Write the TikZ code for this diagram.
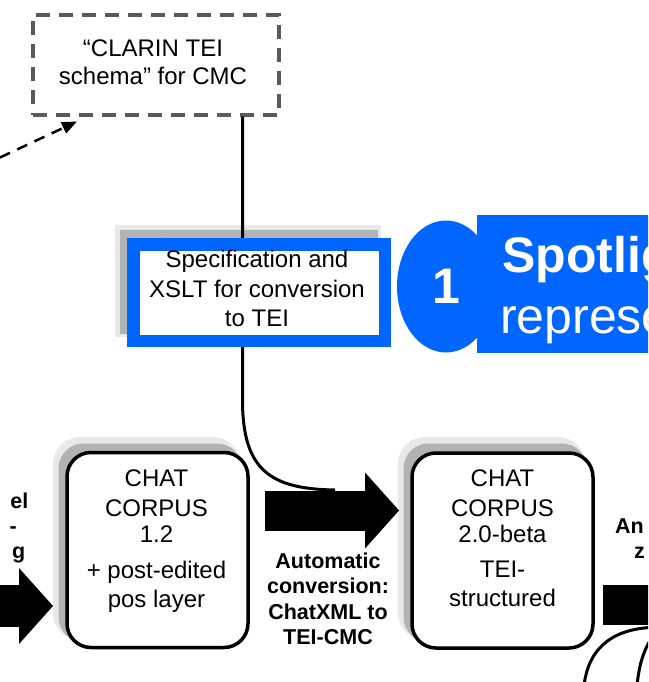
\documentclass[tikz,border=0pt]{standalone}
\usepackage{fontspec}
\setmainfont{Liberation Sans}
\usetikzlibrary{shapes.geometric,arrows.meta}
\definecolor{bblue}{RGB}{0,102,255}
\definecolor{dgray}{RGB}{90,90,90}
\begin{document}
\begin{tikzpicture}[x=1pt,y=-1pt,
  corpus/.style={draw=black, line width=3.5pt, rounded corners=24pt, minimum width=181pt, minimum height=195pt, inner sep=0pt, fill=white},
  bodytext/.style={align=center, inner sep=0pt, font=\fontsize{24}{28}\selectfont},
  labeltext/.style={align=center, inner sep=0pt, font=\bfseries\fontsize{21.5}{25.5}\selectfont},
  fragtext/.style={inner sep=0pt, font=\bfseries\fontsize{21.5}{25.5}\selectfont},
  bigtext/.style={inner sep=0pt, text=white, font=\fontsize{50}{60}\selectfont},
  fatarrow/.style={line width=#1, -{Triangle[length=34pt,width=76pt,line width=0pt]}},
  shadowlight/.style={fill=black!9},
  shadowdark/.style={fill=black!30},
  connector/.style={line width=3pt, black},
]
\useasboundingbox (0,0) rectangle (648,682);
\clip (0,0) rectangle (648,682);

% dashed source box
\node[draw=dgray, line width=3.5pt, dash pattern=on 14pt off 9pt, minimum width=246pt, minimum height=100pt, inner sep=0pt] (clarin) at (156,65) {};
\node[bodytext] (clarintext) at (153,62.3) {“CLARIN TEI\\schema” for CMC};

% dashed arrow into the box
\coordinate (dtail) at (0,157.5);
\coordinate (dtip) at (77,121.5);
\draw[line width=2.5pt, dash pattern=on 11pt off 8pt, -{Triangle[length=15pt,width=12pt]}] (dtail) -- (dtip);

% shadow of specification box
\fill[shadowlight] (115,225) rectangle (381,337);
\fill[shadowdark] (119.5,230) rectangle (378,334);

% vertical connector from the schema box down to the big arrow
\coordinate (bend) at (242.5,400);
\coordinate (meet) at (335,490);
\draw[connector] (clarin.south -| bend) -- (bend) .. controls (242.5,470) and (270,489) .. (meet);

% specification box
\node[draw=bblue, fill=white, line width=12.5pt, minimum width=251.5pt, minimum height=96.5pt, inner sep=0pt] (spec) at (259,292.5) {};
\node[bodytext, font=\fontsize{24}{29.5}\selectfont] (spectext) at (257,288.8) {Specification and\\XSLT for conversion\\to TEI};

% spotlight banner
\node[fill=bblue, anchor=north west, minimum width=200pt, minimum height=138pt, inner sep=0pt] (spot) at (477,215) {};
\node[ellipse, fill=bblue, minimum width=98pt, minimum height=132pt, inner sep=0pt, text=white, font=\bfseries\fontsize{50}{60}\selectfont] (num) at (446,286.5) {1};
\node[bigtext, anchor=base west, font=\bfseries\fontsize{50}{60}\selectfont] (spot1) at (502,272) {Spotlight};
\node[bigtext, anchor=base west] (spot2) at (500,333) {representation};

% shadows of corpus boxes
\fill[shadowlight, rounded corners=27pt] (53,437) rectangle (240,640);
\fill[shadowdark, rounded corners=25pt] (58.5,443.5) rectangle (242,642);
\fill[shadowlight, rounded corners=27pt] (398,437) rectangle (585,640);
\fill[shadowdark, rounded corners=25pt] (403.5,443.5) rectangle (587,642);

% corpus boxes
\node[corpus] (box1) at (157.5,550) {};
\node[bodytext] (box1text) at (156.5,541.4) {CHAT\\[2pt]CORPUS\\[-2pt]1.2\\[8pt]+ post-edited\\[1pt]pos layer};
\node[corpus] (box2) at (502.5,550.5) {};
\node[bodytext] (box2text) at (502.5,538.4) {CHAT\\[2pt]CORPUS\\[-2pt]2.0-beta\\[7pt]TEI-\\[1pt]structured};

% big arrow between the boxes
\coordinate (a1s) at (265,510.5);
\coordinate (a1e) at (399,510.5);
\draw[fatarrow=40pt] (a1s) -- (a1e);
\node[labeltext] (autotext) at (328,598.8) {Automatic\\conversion:\\ChatXML to\\TEI-CMC};

% arrow coming from the left
\coordinate (la1) at (-10,606);
\coordinate (la2) at (53,606);
\draw[fatarrow=42pt] (la1) -- (la2);
\node[fragtext, anchor=base east] (lf1) at (28.5,508) {el};
\node[fragtext, anchor=base east] (lf2) at (17,533) {-};
\node[fragtext, anchor=base east] (lf3) at (25.5,558) {g};

% arrow body leaving to the right
\coordinate (r1) at (603,605);
\coordinate (r2) at (660,605);
\draw[line width=40pt] (r1) -- (r2);
\node[fragtext, anchor=base west] (rf1) at (615,533) {An};
\node[fragtext, anchor=base west] (rf2) at (634,558) {z};

% curved lines in the lower right corner
\coordinate (o1) at (650,627.5);
\coordinate (o2) at (584,686);
\draw[connector] (o1) .. controls (610,630) and (588,650) .. (o2);
\coordinate (i1) at (651,639);
\coordinate (i2) at (637,686);
\draw[connector] (i1) .. controls (643,652) and (639,665) .. (i2);
\end{tikzpicture}
\end{document}
